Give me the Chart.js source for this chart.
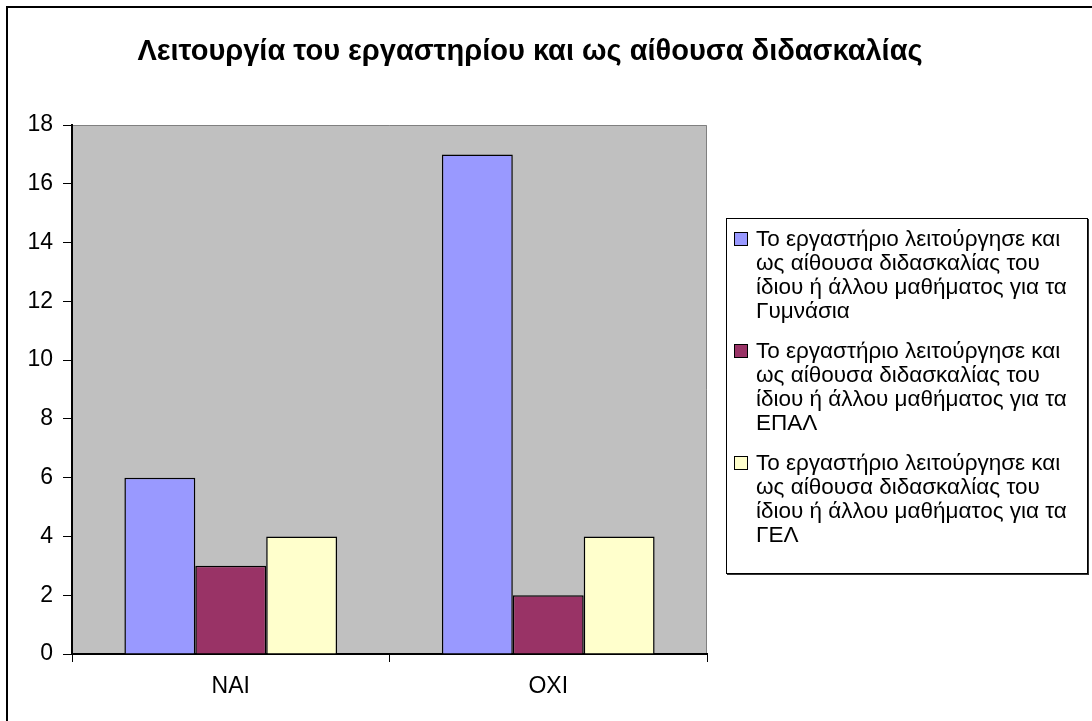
<!DOCTYPE html>
<html>
<head>
<meta charset="utf-8">
<script src="https://cdn.jsdelivr.net/npm/chart.js@4/dist/chart.umd.min.js"></script>
<style>
  body { margin: 0; width: 1092px; height: 721px; overflow: hidden; background: #fff; font-family: "Liberation Sans", Arial, sans-serif; }
  #frame { position: absolute; left: 6px; top: 6px; width: 1100px; height: 730px; border: 2px solid #000; }
  #wrap { position: absolute; left: 0; top: 0; width: 1092px; height: 721px; }
  #title { position: absolute; left: 0; width: 1060px; top: 33px; text-align: center; font-weight: bold; font-size: 29px; line-height: 34px; color: #000; white-space: nowrap; }
  #legend { position: absolute; left: 726px; top: 218px; width: 360px; height: 354px; border: 1px solid #000; box-shadow: 1px 1px 0 #333; background: #fff; }
  .item { position: absolute; left: 0; }
  .sw { position: absolute; left: 7px; top: 5px; width: 12px; height: 12px; border: 1px solid #000; }
  .txt { position: absolute; left: 29px; width: 336px; font-size: 22.5px; line-height: 24px; color: #000; }
</style>
</head>
<body>
<div id="frame"></div>
<div id="wrap"><canvas id="c" width="1092" height="721"></canvas></div>
<div id="title">Λειτουργία του εργαστηρίου και ως αίθουσα διδασκαλίας</div>
<div id="legend"></div>
<script>
// data
var categories = ['NAI', 'OXI'];
var seriesNames = [
  'Το εργαστήριο λειτούργησε και ως αίθουσα διδασκαλίας του ίδιου ή άλλου μαθήματος για τα Γυμνάσια',
  'Το εργαστήριο λειτούργησε και ως αίθουσα διδασκαλίας του ίδιου ή άλλου μαθήματος για τα ΕΠΑΛ',
  'Το εργαστήριο λειτούργησε και ως αίθουσα διδασκαλίας του ίδιου ή άλλου μαθήματος για τα ΓΕΛ'
];
var gymnasia = [6, 17];
var epal = [3, 2];
var gel = [4, 4];
var colors = ['#9999FF', '#993366', '#FFFFCC'];

// gray plot area like the old excel charts
var plotBg = {
  id: 'plotBg',
  beforeDraw: function(chart) {
    var a = chart.chartArea, ctx = chart.ctx;
    ctx.save();
    ctx.fillStyle = '#C0C0C0';
    ctx.fillRect(a.left, a.top, a.right - a.left, a.bottom - a.top);
    ctx.strokeStyle = '#808080';
    ctx.lineWidth = 1;
    ctx.beginPath();
    ctx.moveTo(a.left, a.top + 0.5);
    ctx.lineTo(a.right - 0.5, a.top + 0.5);
    ctx.lineTo(a.right - 0.5, a.bottom);
    ctx.stroke();
    ctx.restore();
  }
};

var ctx = document.getElementById('c').getContext('2d');
var chart = new Chart(ctx, {
  type: 'bar',
  data: {
    labels: categories,
    datasets: [
      { label: seriesNames[0], data: gymnasia, backgroundColor: colors[0], borderColor: '#000', borderWidth: 1.5 },
      { label: seriesNames[1], data: epal, backgroundColor: colors[1], borderColor: '#000', borderWidth: 1.5 },
      { label: seriesNames[2], data: gel, backgroundColor: colors[2], borderColor: '#000', borderWidth: 1.5 }
    ]
  },
  options: {
    responsive: false,
    animation: false,
    layout: { padding: { left: 0, right: 385, top: 125, bottom: 0 } },
    datasets: { bar: { categoryPercentage: 0.67, barPercentage: 1 } },
    plugins: { legend: { display: false }, title: { display: false }, tooltip: { enabled: false } },
    scales: {
      x: {
        afterFit: function(s) { s.height = 67; },
        grid: { offset: true, drawOnChartArea: false, drawTicks: true, tickLength: 8, tickColor: '#000' },
        border: { display: true, color: '#000', width: 2 },
        ticks: { color: '#000', padding: 11, font: { family: 'Liberation Sans', size: 23 } }
      },
      y: {
        min: 0,
        max: 18,
        afterFit: function(s) { s.width = 72; },
        grid: { drawOnChartArea: false, drawTicks: true, tickLength: 9, tickColor: '#000' },
        border: { display: true, color: '#000', width: 2 },
        ticks: { stepSize: 2, color: '#000', padding: 10, font: { family: 'Liberation Sans', size: 23 } }
      }
    }
  },
  plugins: [plotBg]
});

// html legend, wrapped text like the original
var legendBox = document.getElementById('legend');
var tops = [8, 120, 232];
chart.data.datasets.forEach(function(ds, i) {
  var item = document.createElement('div');
  item.className = 'item';
  item.style.top = tops[i] + 'px';
  var sw = document.createElement('div');
  sw.className = 'sw';
  sw.style.background = ds.backgroundColor;
  var txt = document.createElement('div');
  txt.className = 'txt';
  txt.textContent = ds.label;
  item.appendChild(sw);
  item.appendChild(txt);
  legendBox.appendChild(item);
});
</script>
</body>
</html>
